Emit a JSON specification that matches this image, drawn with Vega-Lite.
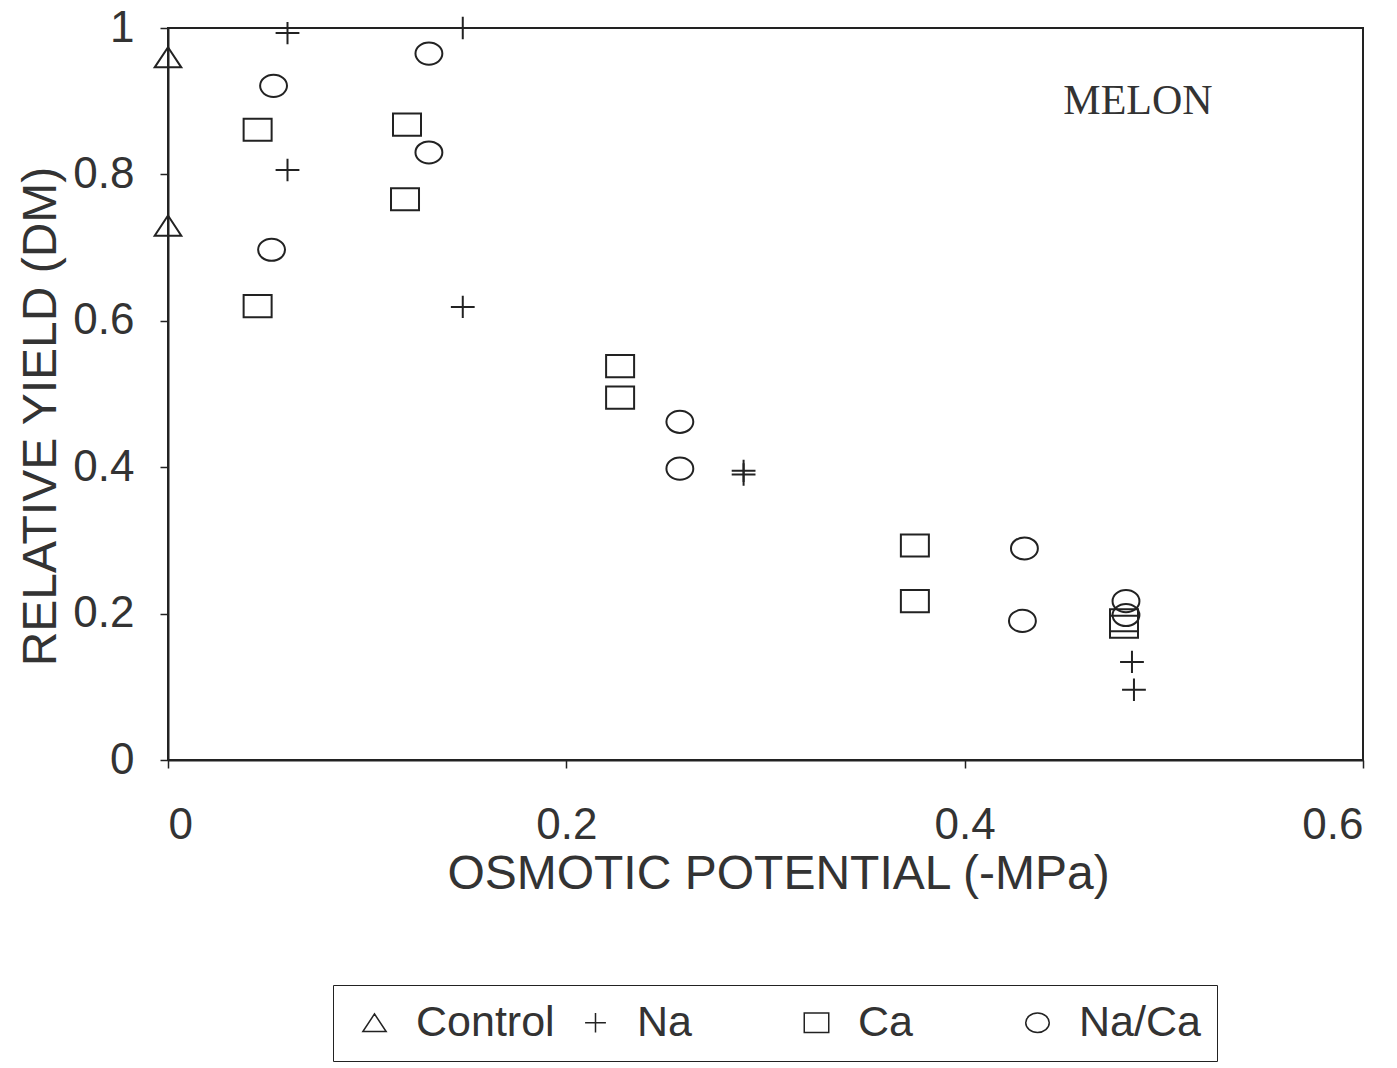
{
  "$schema": "https://vega.github.io/schema/vega-lite/v6.json",
  "width": 1195,
  "height": 732,
  "autosize": {"type": "none"},
  "padding": {"left": 168, "top": 28, "right": 34, "bottom": 308},
  "background": "white",
  "config": {
    "view": {"stroke": "#222", "strokeWidth": 2},
    "font": "Liberation Sans",
    "axis": {
      "grid": false,
      "domainColor": "#222",
      "domainWidth": 2,
      "tickColor": "#222",
      "tickWidth": 1.5,
      "tickSize": 8,
      "labelFont": "Liberation Sans",
      "labelFontSize": 44,
      "labelColor": "#333",
      "titleFont": "Liberation Sans",
      "titleFontSize": 48,
      "titleFontWeight": "normal",
      "titleColor": "#333"
    },
    "legend": {
      "strokeColor": "#222",
      "symbolStrokeWidth": 1.5,
      "symbolStrokeColor": "#222",
      "symbolFillColor": "transparent"
    }
  },
  "datasets": {
    "obs": [
      {"treatment": "Control", "potential": 0.0, "yield": 0.96},
      {"treatment": "Control", "potential": 0.0, "yield": 0.73},
      {"treatment": "Na", "potential": 0.06, "yield": 0.993},
      {"treatment": "Na", "potential": 0.06, "yield": 0.806},
      {"treatment": "Na", "potential": 0.148, "yield": 1.0},
      {"treatment": "Na", "potential": 0.148, "yield": 0.619},
      {"treatment": "Na", "potential": 0.289, "yield": 0.395},
      {"treatment": "Na", "potential": 0.289, "yield": 0.39},
      {"treatment": "Na", "potential": 0.484, "yield": 0.134},
      {"treatment": "Na", "potential": 0.485, "yield": 0.096},
      {"treatment": "Ca", "potential": 0.045, "yield": 0.861},
      {"treatment": "Ca", "potential": 0.045, "yield": 0.62},
      {"treatment": "Ca", "potential": 0.12, "yield": 0.868},
      {"treatment": "Ca", "potential": 0.119, "yield": 0.766},
      {"treatment": "Ca", "potential": 0.227, "yield": 0.538},
      {"treatment": "Ca", "potential": 0.227, "yield": 0.495},
      {"treatment": "Ca", "potential": 0.375, "yield": 0.293},
      {"treatment": "Ca", "potential": 0.375, "yield": 0.217},
      {"treatment": "Ca", "potential": 0.48, "yield": 0.191},
      {"treatment": "Ca", "potential": 0.48, "yield": 0.182},
      {"treatment": "Na/Ca", "potential": 0.053, "yield": 0.921},
      {"treatment": "Na/Ca", "potential": 0.052, "yield": 0.697},
      {"treatment": "Na/Ca", "potential": 0.131, "yield": 0.965},
      {"treatment": "Na/Ca", "potential": 0.131, "yield": 0.83},
      {"treatment": "Na/Ca", "potential": 0.257, "yield": 0.462},
      {"treatment": "Na/Ca", "potential": 0.257, "yield": 0.398},
      {"treatment": "Na/Ca", "potential": 0.43, "yield": 0.289},
      {"treatment": "Na/Ca", "potential": 0.429, "yield": 0.19},
      {"treatment": "Na/Ca", "potential": 0.481, "yield": 0.217},
      {"treatment": "Na/Ca", "potential": 0.481, "yield": 0.198}
    ],
    "note": [
      {"label": "MELON", "potential": 0.487, "yield": 0.9}
    ]
  },
  "layer": [
    {
      "data": {"name": "obs"},
      "mark": {"type": "point", "filled": false, "size": 784, "strokeWidth": 2, "color": "#222", "opacity": 1},
      "encoding": {
        "x": {
          "field": "potential",
          "type": "quantitative",
          "scale": {"domain": [0, 0.6], "nice": false, "zero": false},
          "axis": {
            "values": [0, 0.2, 0.4, 0.6],
            "format": "~g",
            "labelPadding": 35,
            "title": "OSMOTIC POTENTIAL (-MPa)",
            "titlePadding": 3,
            "titleX": 610
          }
        },
        "y": {
          "field": "yield",
          "type": "quantitative",
          "scale": {"domain": [0, 1], "nice": false, "zero": false},
          "axis": {
            "values": [0, 0.2, 0.4, 0.6, 0.8, 1],
            "format": "~g",
            "labelPadding": 26,
            "title": "RELATIVE YIELD (DM)",
            "titlePadding": 7,
            "titleY": 388
          }
        },
        "shape": {
          "field": "treatment",
          "type": "nominal",
          "scale": {
            "domain": ["Control", "Na", "Ca", "Na/Ca"],
            "range": [
              "M0,-0.72L0.95,0.72L-0.95,0.72Z",
              "M-0.85,0H0.85M0,-0.8V0.8",
              "M-1,-0.79H1V0.79H-1Z",
              "M-0.96,0A0.96,0.79,0,1,0,0.96,0A0.96,0.79,0,1,0,-0.96,0Z"
            ]
          },
          "legend": {
            "title": null,
            "orient": "none",
            "legendX": 165,
            "legendY": 957,
            "direction": "horizontal",
            "columns": 4,
            "gridAlign": "all",
            "columnPadding": 15,
            "padding": 16,
            "strokeColor": "#222",
            "labelFont": "Liberation Sans",
            "labelFontSize": 43,
            "labelColor": "#333",
            "labelOffset": 20,
            "symbolOffset": 4,
            "symbolSize": 600
          }
        }
      }
    },
    {
      "data": {"name": "note"},
      "mark": {"type": "text", "font": "Liberation Serif", "fontSize": 42, "color": "#333", "align": "center", "baseline": "middle"},
      "encoding": {
        "x": {"field": "potential", "type": "quantitative"},
        "y": {"field": "yield", "type": "quantitative"},
        "text": {"field": "label"}
      }
    }
  ]
}
